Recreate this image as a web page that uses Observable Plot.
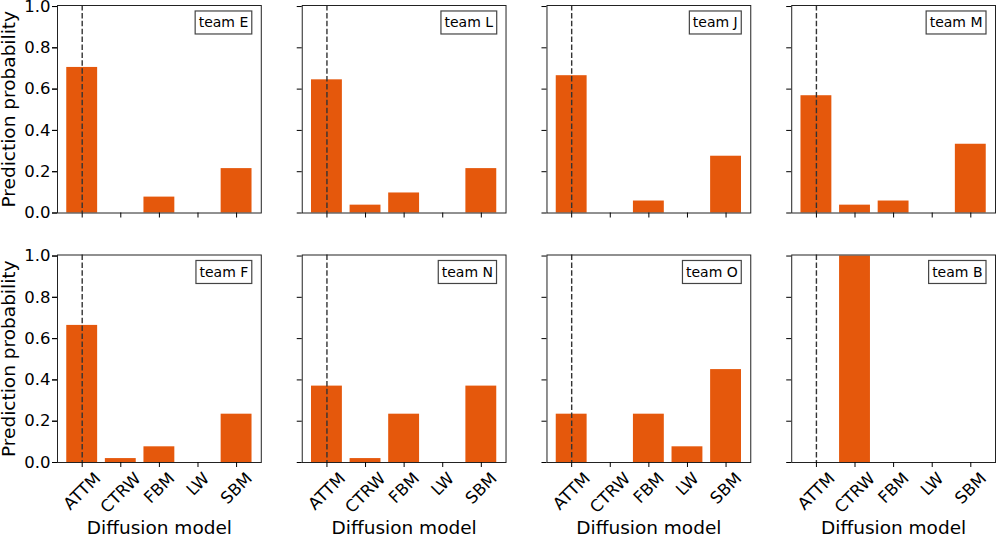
<!DOCTYPE html>
<html>
<head>
<meta charset="utf-8">
<script src="https://cdn.jsdelivr.net/npm/d3@7"></script>
<script src="https://cdn.jsdelivr.net/npm/@observablehq/plot@0.6"></script>
<style>
  body { margin: 0; background: #fff; }
  #chart { width: 996px; height: 539px; position: relative; }
  #dbg { position: absolute; left: 300px; top: 100px; font: 11px monospace; color: red; white-space: pre; }
</style>
</head>
<body>
<div id="chart"></div>
<script>
// ---- data ----
const teams = ["team E", "team L", "team J", "team M", "team F", "team N", "team O", "team B"];
const models = ["ATTM", "CTRW", "FBM", "LW", "SBM"];
const trueModel = "ATTM";
const probE = [0.705, 0, 0.077, 0, 0.215];
const probL = [0.645, 0.038, 0.097, 0, 0.215];
const probJ = [0.665, 0, 0.058, 0, 0.275];
const probM = [0.568, 0.038, 0.058, 0, 0.333];
const probF = [0.664, 0.019, 0.076, 0, 0.234];
const probN = [0.37, 0.019, 0.234, 0, 0.37];
const probO = [0.234, 0, 0.234, 0.076, 0.45];
const probB = [0, 1.0, 0, 0, 0];
const yTicks = [0, 0.2, 0.4, 0.6, 0.8, 1.0];
const yLabel = "Prediction probability";
const xLabel = "Diffusion model";

// ---- tables ----
const teamProbs = [probE, probL, probJ, probM, probF, probN, probO, probB];
const rows = [];
teams.forEach((team, i) => models.forEach((m, j) =>
  rows.push({team, col: i % 4, row: Math.floor(i / 4), model: m, p: teamProbs[i][j]})));
const panels = teams.map((team, i) => ({team, col: i % 4, row: Math.floor(i / 4), model: trueModel}));

const chart = Plot.plot({
  width: 996,
  height: 539,
  marginLeft: 57,
  marginRight: 1,
  marginTop: 5,
  marginBottom: 77,
  style: {fontFamily: "DejaVu Sans", fontSize: "16.5px", background: "#fff", color: "#000", overflow: "visible"},
  fx: {domain: [0, 1, 2, 3], paddingInner: 41 / 245, paddingOuter: 0, round: false, axis: null},
  fy: {domain: [0, 1], paddingInner: 42 / 249.5, paddingOuter: 0, round: false, axis: null},
  x: {domain: models, paddingInner: 0.2, paddingOuter: 0.24, round: false, axis: null},
  y: {domain: [0, 1.005], axis: null},
  marks: [
    Plot.barY(rows, {x: "model", y: "p", fx: "col", fy: "row", fill: "#e5580c"}),
    Plot.ruleX(panels, {x: "model", fx: "col", fy: "row", stroke: "#333", strokeWidth: 1.4, strokeDasharray: "5.5,2.4"}),
    Plot.frame({stroke: "#222", strokeWidth: 1}),
    Plot.axisY(yTicks, {tickFormat: d3.format(".1f"), tickSize: 5, tickPadding: 2, fontSize: 16.5, facetAnchor: "left", label: null, anchor: "left"}),
    Plot.axisY(yTicks, {tickFormat: () => "", tickSize: 5, facetAnchor: null, label: null, anchor: "left"}),
    Plot.axisX({tickFormat: () => "", tickSize: 5, facetAnchor: null, label: null, anchor: "bottom"}),
    Plot.axisX({tickSize: 0, tickPadding: 6.5, tickRotate: -45, fontSize: 16.5, facetAnchor: "bottom", label: null, anchor: "bottom"}),
    Plot.text(panels, {fx: "col", fy: "row", text: "team", frameAnchor: "top-right", dx: -13, dy: 17.5,
      textAnchor: "end", lineAnchor: "middle", fontSize: 14}),
    Plot.text(panels.filter(d => d.col === 0), {fx: "col", fy: "row", text: () => yLabel, frameAnchor: "left",
      textAnchor: "middle", rotate: -90, dx: -48, fontSize: 18.5}),
    Plot.text(panels.filter(d => d.row === 1), {fx: "col", fy: "row", text: () => xLabel, frameAnchor: "bottom",
      dy: 66, lineAnchor: "middle", fontSize: 18.5})
  ]
});
document.getElementById("chart").append(chart);

// ---- post-processing: label boxes and matplotlib-like rotated tick labels ----
const dbg = [];
try {
  const svg = chart.tagName.toLowerCase() === "svg" ? chart : chart.querySelector("svg");
  const texts = Array.from(svg.querySelectorAll("text"));
  let nBox = 0, nTick = 0;
  texts.forEach(t => {
    const s = t.textContent;
    if (teams.includes(s)) {
      const b = t.getBBox();
      const pad = 3.5;
      const r = document.createElementNS("http://www.w3.org/2000/svg", "rect");
      r.setAttribute("x", b.x - pad);
      r.setAttribute("y", b.y - pad);
      r.setAttribute("width", b.width + 2 * pad);
      r.setAttribute("height", b.height + 2 * pad);
      r.setAttribute("fill", "#fff");
      r.setAttribute("stroke", "#444");
      r.setAttribute("stroke-width", "1.2");
      const tr = t.getAttribute("transform");
      if (tr) r.setAttribute("transform", tr);
      t.parentNode.insertBefore(r, t);
      nBox++;
    } else if (models.includes(s)) {
      let tx = null, ty = null;
      const list = t.transform.baseVal;
      for (let k = 0; k < list.numberOfItems; k++) {
        const it = list.getItem(k);
        if (it.type === SVGTransform.SVG_TRANSFORM_TRANSLATE) { tx = it.matrix.e; ty = it.matrix.f; break; }
      }
      if (tx === null) { tx = +t.getAttribute("x") || 0; ty = +t.getAttribute("y") || 0; t.removeAttribute("x"); }
      const L = t.getComputedTextLength();
      const h = 16.5 * 1.15;
      const off = (L + h) / (2 * Math.SQRT2);
      t.setAttribute("transform", `translate(${tx},${ty + off}) rotate(-45)`);
      t.setAttribute("text-anchor", "middle");
      t.setAttribute("y", "0.32em");
      t.removeAttribute("dy");
      nTick++;
    }
  });
  if (nBox === 0 || nTick === 0) dbg.push("boxes " + nBox + " ticks " + nTick + " texts " + texts.length);
} catch (e) {
  dbg.push("ERR " + e.message);
}
if (dbg.length) {
  const d = document.createElement("div");
  d.id = "dbg";
  d.textContent = dbg.join("\n");
  document.getElementById("chart").append(d);
}
</script>
</body>
</html>
